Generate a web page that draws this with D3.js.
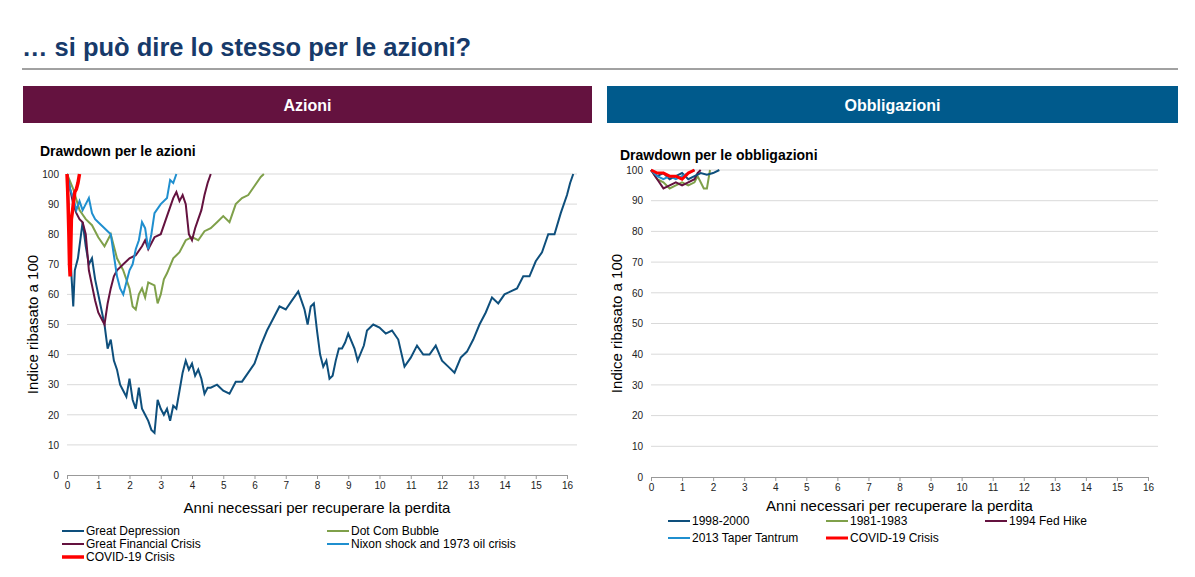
<!DOCTYPE html><html><head><meta charset="utf-8"><script src="https://cdn.jsdelivr.net/npm/d3@7"></script>
<style>body{margin:0;background:#fff;font-family:"Liberation Sans",Arial,sans-serif}</style></head><body><svg id="c" width="1195" height="577"></svg>
<script>
const xTicks=d3.range(0,17), yTicks=d3.range(0,101,10);
const greatDepression=[[0,100],[0.05,90],[0.1,75],[0.15,65],[0.2,56],[0.25,68],[0.35,72],[0.45,80],[0.5,84],[0.6,76],[0.7,70],[0.8,72],[0.9,65],[1,60],[1.1,55],[1.2,50],[1.3,42],[1.4,45],[1.5,38],[1.6,35],[1.7,30],[1.8,28],[1.9,26],[2.0,32],[2.1,25],[2.2,22],[2.3,29],[2.4,22],[2.5,20],[2.6,18],[2.7,15],[2.8,14],[2.9,25],[3.0,22],[3.1,20],[3.2,22],[3.3,18],[3.4,23],[3.5,22],[3.6,28],[3.7,34],[3.8,38],[3.9,35],[4.0,37],[4.1,33],[4.2,35],[4.3,32],[4.4,27],[4.5,29],[4.6,29],[4.8,30],[5.0,28],[5.2,27],[5.4,31],[5.6,31],[5.8,34],[6.0,37],[6.2,43],[6.4,48],[6.6,52],[6.8,56],[7.0,55],[7.2,58],[7.4,61],[7.5,58],[7.6,55],[7.7,50],[7.8,56],[7.9,57],[8.0,48],[8.1,40],[8.2,36],[8.3,38],[8.4,32],[8.5,33],[8.6,38],[8.7,42],[8.8,42],[8.9,44],[9.0,47],[9.2,42],[9.3,38],[9.5,43],[9.6,48],[9.8,50],[10.0,49],[10.2,47],[10.4,48],[10.6,45],[10.8,36],[11.0,39],[11.2,43],[11.4,40],[11.6,40],[11.8,43],[12.0,38],[12.2,36],[12.4,34],[12.6,39],[12.8,41],[13.0,45],[13.2,50],[13.4,54],[13.6,59],[13.8,57],[14.0,60],[14.2,61],[14.4,62],[14.6,66],[14.8,66],[15.0,71],[15.2,74],[15.4,80],[15.6,80],[15.8,87],[16.0,93],[16.1,97],[16.2,100]];
const dotCom=[[0,100],[0.2,95],[0.4,88],[0.6,85],[0.8,83],[1.0,79],[1.2,76],[1.4,80],[1.6,72],[1.8,68],[2.0,62],[2.1,56],[2.2,55],[2.3,60],[2.4,62],[2.5,59],[2.6,64],[2.8,63],[2.9,57],[3.0,60],[3.1,65],[3.2,67],[3.4,72],[3.6,74],[3.8,78],[4.0,79],[4.2,78],[4.4,81],[4.6,82],[4.8,84],[5.0,86],[5.2,84],[5.4,90],[5.6,92],[5.8,93],[6.0,96],[6.2,99],[6.3,100]];
const gfc=[[0,100],[0.1,95],[0.2,90],[0.3,87],[0.4,85],[0.5,84],[0.6,80],[0.7,68],[0.8,63],[0.9,58],[1.0,54],[1.1,52],[1.2,50],[1.3,57],[1.4,62],[1.5,66],[1.6,68],[1.8,70],[2.0,72],[2.2,73],[2.4,76],[2.5,78],[2.6,75],[2.8,79],[3.0,80],[3.2,86],[3.4,92],[3.5,94],[3.6,91],[3.7,93],[3.8,90],[3.9,80],[4.0,78],[4.1,82],[4.2,85],[4.3,88],[4.4,93],[4.5,97],[4.6,100]];
const nixon=[[0,100],[0.1,95],[0.2,92],[0.3,88],[0.4,91],[0.5,88],[0.6,90],[0.7,92],[0.8,87],[0.9,85],[1.0,84],[1.2,82],[1.4,80],[1.5,73],[1.6,66],[1.7,62],[1.8,60],[1.9,64],[2.0,68],[2.1,70],[2.2,75],[2.3,78],[2.4,84],[2.5,82],[2.6,75],[2.7,80],[2.8,87],[3.0,90],[3.2,92],[3.3,98],[3.4,97],[3.5,100]];
const covidEq=[[0,100],[0.02,95],[0.04,88],[0.06,80],[0.08,70],[0.1,66],[0.12,75],[0.14,85],[0.18,88],[0.2,90],[0.25,94],[0.3,95],[0.35,97],[0.4,100]];
const b9800=[[0,100],[0.2,98],[0.4,99],[0.6,97],[0.8,98],[1.0,99],[1.2,97],[1.4,98],[1.6,99],[1.8,98.5],[2.0,99],[2.2,100]];
const b8183=[[0,100],[0.2,97],[0.4,96],[0.6,94],[0.8,95],[1.0,96],[1.2,95],[1.4,96],[1.5,98],[1.6,96],[1.7,94],[1.8,94],[1.9,100]];
const b94=[[0,100],[0.2,97],[0.4,94],[0.6,95],[0.8,96],[1.0,95],[1.2,96],[1.4,97],[1.5,99],[1.6,100]];
const bTaper=[[0,100],[0.2,98],[0.4,97],[0.6,98],[0.8,97],[1.0,98],[1.2,99],[1.4,100]];
const bCovid=[[0,100],[0.2,99],[0.4,99],[0.6,98],[0.8,98],[1.0,97],[1.2,99],[1.4,100]];
const C={dark:"#0e4f7c",green:"#7fa04a",purple:"#64123f",light:"#1f8fcf",red:"#ff0000"};
const svg=d3.select("#c");
svg.append("text").attr("x",22).attr("y",56).attr("font-size",25.5).attr("font-weight","bold").attr("fill","#173a6a").text("… si può dire lo stesso per le azioni?");
svg.append("line").attr("x1",22).attr("x2",1178).attr("y1",69).attr("y2",69).attr("stroke","#444");
[[23,592,"#64123f","Azioni"],[607,1178,"#005a8c","Obbligazioni"]].forEach(([a,b,c,t])=>{
 svg.append("rect").attr("x",a).attr("y",86).attr("width",b-a).attr("height",37).attr("fill",c);
 svg.append("text").attr("x",(a+b)/2).attr("y",111).attr("text-anchor","middle").attr("fill","#fff").attr("font-size",16).attr("font-weight","bold").text(t);});
function panel(o){
 const x=d3.scaleLinear().domain([0,16]).range([o.x0,o.x1]), y=d3.scaleLinear().domain([0,100]).range([o.y0,o.y1]);
 svg.append("text").attr("x",o.tx).attr("y",o.ty).attr("font-size",14).attr("font-weight","bold").text(o.title);
 const g=svg.append("g");
 yTicks.forEach(t=>{ if(t>0) g.append("line").attr("x1",o.x0).attr("x2",o.x1+10).attr("y1",y(t)).attr("y2",y(t)).attr("stroke","#d9d9d9");});
 g.append("g").attr("transform",`translate(0,${o.y0})`).call(d3.axisBottom(x).tickValues(xTicks).tickSize(4)).call(a=>{a.selectAll("text").attr("font-size",10).attr("fill","#222").attr("font-family","Liberation Sans");a.select(".domain").attr("stroke","#999");a.selectAll(".tick line").attr("stroke","#999");});
 g.append("g").attr("transform",`translate(${o.x0},0)`).call(d3.axisLeft(y).tickValues(yTicks).tickSize(0).tickPadding(8)).call(a=>{a.selectAll("text").attr("font-size",10).attr("fill","#222").attr("font-family","Liberation Sans");a.select(".domain").remove();});
 svg.append("text").attr("x",(o.x0+o.x1)/2).attr("y",o.y0+o.lab).attr("text-anchor","middle").attr("font-size",15).text("Anni necessari per recuperare la perdita");
 svg.append("text").attr("transform",`translate(${o.x0-29},${(o.y0+o.y1)/2}) rotate(-90)`).attr("text-anchor","middle").attr("font-size",15).text("Indice ribasato a 100");
 const ln=d3.line().x(d=>x(d[0])).y(d=>y(d[1]));
 o.series.forEach(s=>svg.append("path").attr("d",ln(s.d)).attr("fill","none").attr("stroke",s.c).attr("stroke-width",s.w||2));
 o.series.forEach(s=>{svg.append("line").attr("x1",s.lx).attr("x2",s.lx+22).attr("y1",s.ly-4).attr("y2",s.ly-4).attr("stroke",s.c).attr("stroke-width",s.w||2);
  svg.append("text").attr("x",s.lx+24).attr("y",s.ly).attr("font-size",12).text(s.n);});
}
panel({x0:67,x1:567,y0:475,y1:174,lab:38,tx:40,ty:156,title:"Drawdown per le azioni",series:[
 {d:greatDepression,c:C.dark,n:"Great Depression",lx:62,ly:535},
 {d:dotCom,c:C.green,n:"Dot Com Bubble",lx:327,ly:535},
 {d:gfc,c:C.purple,n:"Great Financial Crisis",lx:62,ly:548},
 {d:nixon,c:C.light,n:"Nixon shock and 1973 oil crisis",lx:327,ly:548},
 {d:covidEq,c:C.red,n:"COVID-19 Crisis",lx:62,ly:561,w:3.5}]});
panel({x0:651,x1:1148,y0:477,y1:170,lab:34,tx:620,ty:160,title:"Drawdown per le obbligazioni",series:[
 {d:b8183,c:C.green,n:"1981-1983",lx:826,ly:525},
 {d:b94,c:C.purple,n:"1994 Fed Hike",lx:985,ly:525},
 {d:b9800,c:C.dark,n:"1998-2000",lx:668,ly:525},
 {d:bTaper,c:C.light,n:"2013 Taper Tantrum",lx:668,ly:542},
 {d:bCovid,c:C.red,n:"COVID-19 Crisis",lx:826,ly:542,w:3}]});
</script></body></html>
